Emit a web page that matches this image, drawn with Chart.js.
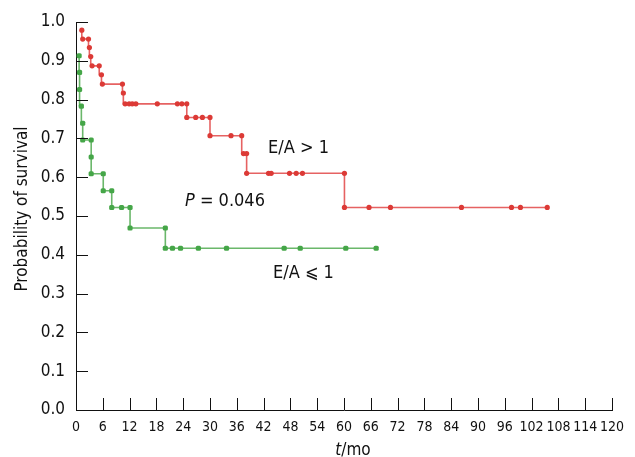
<!DOCTYPE html>
<html>
<head>
<meta charset="utf-8">
<script src="https://cdn.jsdelivr.net/npm/chart.js@4/dist/chart.umd.min.js"></script>
<style>
  html, body { margin: 0; padding: 0; background: #fff; }
  #wrap { width: 635px; height: 457px; }
</style>
</head>
<body>
<div id="wrap"><canvas id="km"></canvas></div>
<script>
// survival curves (months, probability)
const redTimes = [1.3, 1.5, 2.8, 3.0, 3.3, 3.6, 5.2, 5.7, 5.9, 10.4, 10.6, 11.0, 11.9, 12.6, 13.4, 18.2, 22.7, 23.7,
  24.8, 24.8, 26.8, 28.3, 30.0, 30.0, 34.7, 37.1, 37.5, 38.2, 38.2, 43.1, 43.7, 47.8, 49.3, 50.7, 60.1, 60.1,
  65.6, 70.4, 86.3, 97.5, 99.5, 105.5];
const redSurv = [0.979, 0.956, 0.956, 0.934, 0.911, 0.887, 0.887, 0.864, 0.840, 0.840, 0.817, 0.789, 0.789, 0.789,
  0.789, 0.789, 0.789, 0.789, 0.789, 0.754, 0.754, 0.754, 0.754, 0.707, 0.707, 0.707, 0.661, 0.661, 0.610, 0.610,
  0.610, 0.610, 0.610, 0.610, 0.610, 0.522, 0.522, 0.522, 0.522, 0.522, 0.522, 0.522];

const greenTimes = [0.7, 0.8, 0.8, 1.2, 1.5, 1.5, 3.4, 3.4, 3.4, 6.1, 6.1, 8.0, 8.0, 10.2, 12.1, 12.1, 20.0, 20.0,
  21.6, 23.4, 27.4, 33.7, 46.6, 50.2, 60.4, 67.2];
const greenSurv = [0.913, 0.870, 0.826, 0.783, 0.739, 0.696, 0.696, 0.652, 0.609, 0.609, 0.565, 0.565, 0.522, 0.522,
  0.522, 0.469, 0.469, 0.417, 0.417, 0.417, 0.417, 0.417, 0.417, 0.417, 0.417, 0.417];

const xTicks = [0, 6, 12, 18, 24, 30, 36, 42, 48, 54, 60, 66, 72, 78, 84, 90, 96, 102, 108, 114, 120];
const yTicks = [0, 0.1, 0.2, 0.3, 0.4, 0.5, 0.6, 0.7, 0.8, 0.9, 1.0];

const FONT = '"DejaVu Sans Condensed", "DejaVu Sans", sans-serif';

function pts(ts, ss) {
  return ts.map((t, i) => ({ x: t, y: ss[i] }));
}

// inward tick marks, axis titles and the in-plot labels
const overlay = {
  id: 'overlay',
  afterDraw(chart) {
    const { ctx, scales: { x, y } } = chart;
    ctx.save();
    ctx.strokeStyle = '#111';
    ctx.lineWidth = 1;
    ctx.beginPath();
    xTicks.forEach(v => {
      const px = Math.round(x.getPixelForValue(v)) + 0.5;
      ctx.moveTo(px, y.bottom);
      ctx.lineTo(px, y.bottom - 12);
    });
    yTicks.forEach(v => {
      const py = Math.round(y.getPixelForValue(v)) + 0.5;
      ctx.moveTo(x.left, py);
      ctx.lineTo(x.left + 12, py);
    });
    ctx.stroke();

    ctx.fillStyle = '#111';
    ctx.textBaseline = 'alphabetic';

    // y title
    ctx.save();
    ctx.translate(27, 209);
    ctx.rotate(-Math.PI / 2);
    ctx.textAlign = 'center';
    ctx.font = '17px ' + FONT;
    ctx.fillText('Probability of survival', 0, 0);
    ctx.restore();

    // x title: italic t + /mo
    ctx.font = 'italic 17px ' + FONT;
    const wT = ctx.measureText('t').width;
    ctx.font = '17px ' + FONT;
    const wMo = ctx.measureText('/mo').width;
    const x0 = 353 - (wT + wMo) / 2;
    ctx.textAlign = 'left';
    ctx.font = 'italic 17px ' + FONT;
    ctx.fillText('t', x0, 455);
    ctx.font = '17px ' + FONT;
    ctx.fillText('/mo', x0 + wT, 455);

    // group labels and p value, placed in data coordinates
    ctx.font = '18px ' + FONT;
    ctx.fillText('E/A > 1', x.getPixelForValue(43.0), y.getPixelForValue(0.662));
    ctx.fillText('E/A \u2A7D 1', x.getPixelForValue(44.1), y.getPixelForValue(0.340));
    const px = x.getPixelForValue(24.4), py = y.getPixelForValue(0.526);
    ctx.font = 'italic 18px ' + FONT;
    ctx.fillText('P', px, py);
    const wP = ctx.measureText('P').width;
    ctx.font = '18px ' + FONT;
    ctx.fillText(' = 0.046', px + wP, py);
    ctx.restore();
  }
};

new Chart(document.getElementById('km'), {
  type: 'line',
  data: {
    datasets: [
      {
        label: 'E/A > 1',
        data: pts(redTimes, redSurv),
        stepped: 'after',
        borderColor: 'rgba(226, 70, 70, 0.85)',
        borderWidth: 1.6,
        pointRadius: 2.6,
        pointBackgroundColor: '#dc3a36',
        pointBorderColor: '#dc3a36',
        pointBorderWidth: 0,
        fill: false
      },
      {
        label: 'E/A <= 1',
        data: pts(greenTimes, greenSurv),
        stepped: 'after',
        borderColor: 'rgba(80, 170, 80, 0.85)',
        borderWidth: 1.6,
        pointStyle: 'rectRounded',
        pointRadius: 3,
        pointBackgroundColor: '#45a648',
        pointBorderColor: '#45a648',
        pointBorderWidth: 0,
        fill: false
      }
    ]
  },
  options: {
    responsive: true,
    maintainAspectRatio: false,
    animation: false,
    events: [],
    layout: { padding: { top: 22, right: 23, left: 0, bottom: 0 } },
    plugins: { legend: { display: false }, tooltip: { enabled: false } },
    scales: {
      x: {
        type: 'linear',
        min: 0,
        max: 120,
        afterBuildTicks: s => { s.ticks = xTicks.map(v => ({ value: v })); },
        afterFit: s => { s.height = 47; },
        grid: { display: true, drawOnChartArea: false, drawTicks: false, color: 'rgba(0,0,0,0)' },
        border: { display: true, color: '#111', width: 1 },
        ticks: {
          autoSkip: false,
          maxRotation: 0,
          padding: 9,
          color: '#111',
          font: { family: FONT, size: 14 },
          callback: v => String(v)
        }
      },
      y: {
        type: 'linear',
        min: 0,
        max: 1,
        afterBuildTicks: s => { s.ticks = yTicks.map(v => ({ value: v })); },
        afterFit: s => { s.width = 76; },
        grid: { display: true, drawOnChartArea: false, drawTicks: false, color: 'rgba(0,0,0,0)' },
        border: { display: true, color: '#111', width: 1 },
        ticks: {
          padding: 11,
          color: '#111',
          font: { family: FONT, size: 17 },
          callback: v => Number(v).toFixed(1)
        }
      }
    }
  },
  plugins: [overlay]
});
</script>
</body>
</html>
